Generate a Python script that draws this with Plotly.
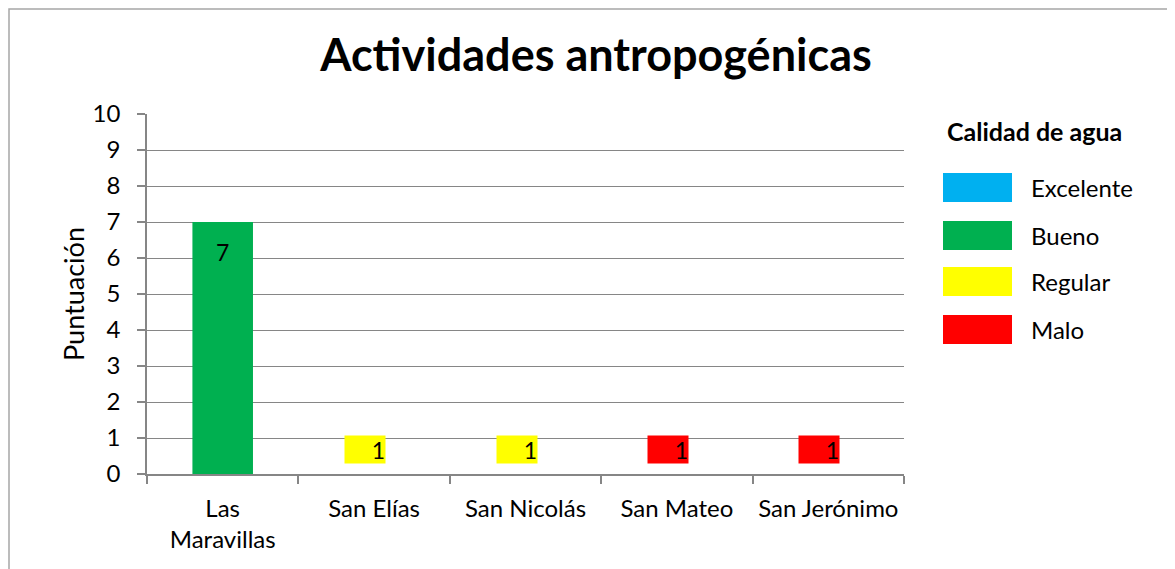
import plotly.graph_objects as go

# data
sites = ['Las<br>Maravillas', 'San Elías', 'San Nicolás', 'San Mateo', 'San Jerónimo']
scores = [7, 1, 1, 1, 1]
quality = ['Bueno', 'Regular', 'Regular', 'Malo', 'Malo']

legend_labels = ['Excelente', 'Bueno', 'Regular', 'Malo']
legend_colors = ['#00B0F0', '#00B050', '#FFFF00', '#FF0000']
y_ticks = list(range(0, 11))

color_of = dict(zip(legend_labels, legend_colors))
FONT = 'Lato'

# page has an 8px body margin, so shift everything up/left by that
OFF = 8
W, H = 1175, 569
L, R, T, B = 147 - OFF, 904 - OFF, 114 - OFF, 474 - OFF
pw, ph = R - L, B - T


def px_x(px):
    return (px - OFF - L) / pw


def px_y(py):
    return (B - (py - OFF)) / ph


fig = go.Figure()

# bars: the tall one is filled, the small ones only show a coloured label box
bar_colors = [color_of[q] if s > 1 else 'rgba(0,0,0,0)' for s, q in zip(scores, quality)]
fig.add_trace(go.Bar(
    x=sites, y=scores,
    marker_color=bar_colors, marker_line_width=0,
    showlegend=False, hoverinfo='skip'
))

annotations = []
for s, v, q in zip(sites, scores, quality):
    if v > 1:
        annotations.append(dict(
            x=s, y=v, xref='x', yref='y', text=str(v), showarrow=False,
            yanchor='top', yshift=-14,
            font=dict(size=23, color='black', family=FONT)
        ))
    else:
        annotations.append(dict(
            x=s, y=v, xref='x', yref='y', text=str(v), showarrow=False,
            yanchor='top', yshift=3, xshift=-9, width=40, height=27,
            align='right', bgcolor=color_of[q], borderpad=0,
            font=dict(size=23, color='black', family=FONT)
        ))

# legend (drawn by hand to get Excel-style big swatches)
annotations.append(dict(
    x=px_x(1034), y=px_y(131), xref='paper', yref='paper',
    text='<b>Calidad de agua</b>', showarrow=False,
    xanchor='center', yanchor='middle',
    font=dict(size=25, color='black', family=FONT)
))
shapes = []
swatch_top = [173, 221, 267, 315]
for lab, col, top in zip(legend_labels, legend_colors, swatch_top):
    shapes.append(dict(
        type='rect', xref='paper', yref='paper',
        x0=px_x(943), x1=px_x(1012), y0=px_y(top + 29), y1=px_y(top),
        fillcolor=col, line_width=0
    ))
    annotations.append(dict(
        x=px_x(1029), y=px_y(top + 14), xref='paper', yref='paper',
        text=lab, showarrow=False, xanchor='left', yanchor='middle',
        font=dict(size=24, color='black', family=FONT)
    ))

# outer chart frame (top and left edges visible)
shapes.append(dict(
    type='rect', xref='paper', yref='paper',
    x0=px_x(OFF + 1), x1=px_x(W + 40), y0=px_y(H + 40), y1=px_y(OFF + 1),
    line=dict(color='#A6A6A6', width=1.5), fillcolor='rgba(0,0,0,0)', layer='below'
))

fig.update_layout(
    width=W, height=H,
    margin=dict(l=L, r=W - R, t=T, b=H - B),
    paper_bgcolor='white', plot_bgcolor='white',
    title=dict(text='<b>Actividades antropogénicas</b>', x=(596 - OFF) / W,
               xanchor='center', y=1 - (55 - OFF) / H, yanchor='middle',
               font=dict(size=45, color='black', family=FONT)),
    bargap=0.6,
    annotations=annotations,
    shapes=shapes,
    font=dict(family=FONT, color='black'),
)
fig.update_xaxes(
    type='category', showline=True, linecolor='#868686', linewidth=1.5,
    ticks='outside', tickson='boundaries', ticklen=8, tickcolor='#868686', tickwidth=1.5,
    tickfont=dict(size=24, family=FONT), showgrid=False, ticklabelstandoff=12
)
fig.update_yaxes(
    range=[0, 10], tickvals=y_ticks, showline=True, linecolor='#868686', linewidth=1.5,
    ticks='outside', ticklen=8, tickcolor='#868686', tickwidth=1.5,
    showgrid=True, gridcolor='#868686', gridwidth=1,
    tickfont=dict(size=24, family=FONT), zeroline=False, ticklabelstandoff=12,
    title=dict(text='Puntuación', font=dict(size=27, family=FONT), standoff=0)
)

fig.write_html('out.html')
